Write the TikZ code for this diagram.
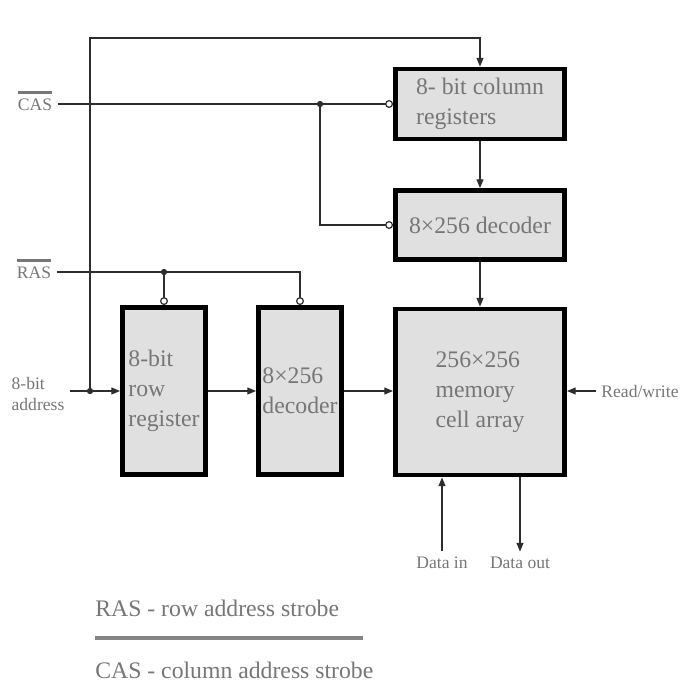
\documentclass[tikz,border=0pt]{standalone}
\usepackage{fontspec}
\setmainfont{Liberation Serif}
\usepackage{tikz}
\usetikzlibrary{arrows.meta}
\definecolor{boxgray}{RGB}{224,224,224}
\definecolor{txtgray}{RGB}{118,118,118}
\definecolor{wiregray}{RGB}{45,45,45}
\newcommand{\sigbar}[1]{\setbox0\hbox{#1}\vbox{\hrule height 1.6pt width \wd0\kern2.6pt\box0}}

\begin{document}
\begin{tikzpicture}[
    x=0.02cm, y=-0.02cm,
    >={Triangle[length=5pt,width=4pt]},
    bubble/.tip={Circle[open,length=4.5pt]},
    wire/.style={draw=wiregray, line width=0.7pt},
    blk/.style={draw=black, line width=2.8pt, fill=boxgray, align=left, text=txtgray,
                font=\fontsize{13.5}{17}\selectfont, inner sep=0pt},
    lbl/.style={text=txtgray, font=\fontsize{10}{12.5}\selectfont, align=left, inner sep=3pt},
    legend/.style={text=txtgray, font=\fontsize{13.5}{16}\selectfont, inner sep=0pt}
]
  \useasboundingbox (0,0) rectangle (700,700);

  % blocks
  \node[blk, minimum width=3.38cm, minimum height=1.40cm] (colreg) at (480,104) {8- bit column\\registers};
  \node[blk, minimum width=3.38cm, minimum height=1.38cm] (coldec) at (480,225) {8×256 decoder};
  \node[blk, minimum width=1.66cm, minimum height=3.34cm] (rowreg) at (164,391) {8-bit\\row\\register};
  \node[blk, minimum width=1.66cm, minimum height=3.34cm] (rowdec) at (300,391) {8×256\\decoder};
  \node[blk, minimum width=3.38cm, minimum height=3.32cm] (mem) at (480,392) {256×256\\memory\\cell array};

  % signal labels
  \node[lbl] (cas) at (35,101) {\sigbar{CAS}};
  \node[lbl] (ras) at (34,269) {\sigbar{RAS}};
  \node[lbl] (addr) at (38,394) {8-bit\\address};
  \node[lbl] (rw) at (640,391) {Read/write};
  \node[lbl] (din) at (442,563) {Data in};
  \node[lbl] (dout) at (520,563) {Data out};

  % junctions
  \coordinate (aj) at (90,391);
  \coordinate (top) at (480,38);
  \coordinate (cj) at (320,104);
  \coordinate (rj) at (164,272);

  % edges
  \draw[wire,->] (addr.east |- aj) -- (rowreg.west);
  \draw[wire,->] (aj) |- (top) -- (colreg.north);
  \draw[wire,-bubble] (cas.east |- colreg.west) -- (colreg.west);
  \draw[wire,-bubble] (cj) |- (coldec.west);
  \draw[wire,-bubble] (ras.east |- rj) -| (rowdec.north);
  \draw[wire,-bubble] (rj) -- (rowreg.north);
  \draw[wire,->] (rowreg) -- (rowdec);
  \draw[wire,->] (rowdec) -- (rowdec -| mem.west);
  \draw[wire,->] (colreg) -- (coldec);
  \draw[wire,->] (coldec) -- (mem);
  \draw[wire,->] (rw.west) -- (rw.west -| mem.east);
  \draw[wire,->] (din.north) -- (din.north |- mem.south);
  \draw[wire,->] (mem.south -| dout.north) -- (dout.north);
  \foreach \j in {aj,cj,rj}
    \fill[wiregray] (\j) circle (1.8pt);

  % legend
  \node[legend, anchor=west] (rasdef) at (95,608) {RAS - row address strobe};
  \node[legend, anchor=west] (casdef) at (95,670) {CAS - column address strobe};
  \coordinate (sepa) at (95,638);
  \coordinate (sepb) at (363,638);
  \draw[draw=txtgray!90, line width=2.2pt] (sepa) -- (sepb);
\end{tikzpicture}
\end{document}
